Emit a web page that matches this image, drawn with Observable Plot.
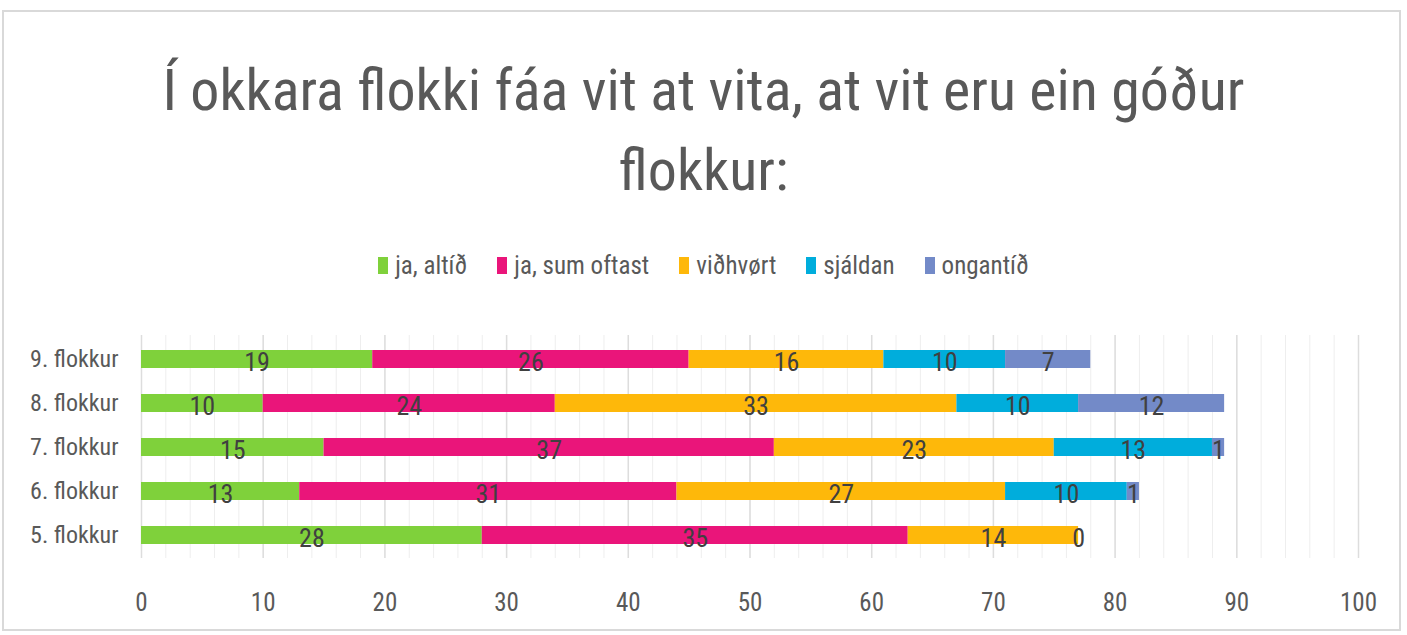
<!DOCTYPE html>
<html>
<head>
<meta charset="utf-8">
<script src="https://cdn.jsdelivr.net/npm/d3@7"></script>
<script src="https://cdn.jsdelivr.net/npm/@observablehq/plot@0.6"></script>
<style>
  html, body { margin: 0; padding: 0; background: #fff; }
  body { width: 1407px; height: 635px; position: relative; overflow: hidden;
         font-family: "Liberation Sans Narrow", "Roboto Condensed", "DejaVu Sans Condensed", sans-serif; }
  #frame { position: absolute; left: 2px; top: 10px; width: 1399px; height: 621px; border: 2px solid #d9d9d9; box-sizing: border-box; }
  #title { position: absolute; left: 0; top: 50px; width: 1407px; text-align: center;
           font-size: 58px; line-height: 80px; color: #595959; }
  #legend { position: absolute; left: 0; top: 251px; width: 1407px; display: flex; justify-content: center;
            gap: 30px; font-size: 25px; color: #595959; }
  .item { display: flex; align-items: center; gap: 7px; }
  .sw { width: 10px; height: 17px; display: inline-block; }
  #chart { position: absolute; left: 0; top: 300px; }
</style>
</head>
<body>
<div id="frame"></div>
<div id="title">Í okkara flokki fáa vit at vita, at vit eru ein góður<br>flokkur:</div>
<div id="legend"></div>
<div id="chart"></div>
<script>
const categories = ["9. flokkur", "8. flokkur", "7. flokkur", "6. flokkur", "5. flokkur"];
const seriesNames = ["ja, altíð", "ja, sum oftast", "viðhvørt", "sjáldan", "ongantíð"];
const seriesColors = ["#7FD13B", "#EA157A", "#FEB80A", "#00ADDC", "#738AC8"];
const jaAltid      = [19, 10, 15, 13, 28];
const jaSumOftast  = [26, 24, 37, 31, 35];
const vidhvort     = [16, 33, 23, 27, 14];
const sjaldan      = [10, 10, 13, 10, 0];
const ongantid     = [7, 12, 1, 1, null];
const xTicks = [0, 10, 20, 30, 40, 50, 60, 70, 80, 90, 100];

const seriesValues = [jaAltid, jaSumOftast, vidhvort, sjaldan, ongantid];
const rows = [];
seriesNames.forEach((s, i) => {
  categories.forEach((c, j) => {
    const v = seriesValues[i][j];
    if (v !== null && v !== undefined) rows.push({cat: c, series: s, value: v});
  });
});

// legend
const legend = document.getElementById("legend");
seriesNames.forEach((s, i) => {
  const it = document.createElement("span");
  it.className = "item";
  it.innerHTML = `<span class="sw" style="background:${seriesColors[i]}"></span><span>${s}</span>`;
  legend.appendChild(it);
});

const minorGrid = d3.range(0, 101, 2);

const chart = Plot.plot({
  width: 1407,
  height: 330,
  marginTop: 35,
  marginBottom: 72,
  marginLeft: 141,
  marginRight: 49,
  style: {fontSize: "25px", fontFamily: "'Liberation Sans Narrow', 'Roboto Condensed', 'DejaVu Sans Condensed', sans-serif", color: "#595959", background: "transparent"},
  x: {domain: [0, 100]},
  y: {domain: categories, paddingInner: 0.6, paddingOuter: 0.3},
  color: {domain: seriesNames, range: seriesColors},
  marks: [
    Plot.ruleX(minorGrid, {stroke: "#eeeeee", strokeWidth: 1}),
    Plot.ruleX(xTicks, {stroke: "#dddddd", strokeWidth: 1.5}),
    Plot.barX(rows, Plot.stackX({x: "value", y: "cat", fill: "series", order: seriesNames})),
    Plot.text(rows, Plot.stackX({x: "value", y: "cat", z: "series", order: seriesNames,
      text: d => String(d.value), fill: "#404040", fontSize: 26, dy: 3})),
    Plot.axisX({ticks: xTicks, tickSize: 0, tickPadding: 35, label: null}),
    Plot.axisY({tickSize: 0, tickPadding: 23, label: null, fontSize: 24})
  ]
});
document.getElementById("chart").appendChild(chart);
</script>
</body>
</html>
